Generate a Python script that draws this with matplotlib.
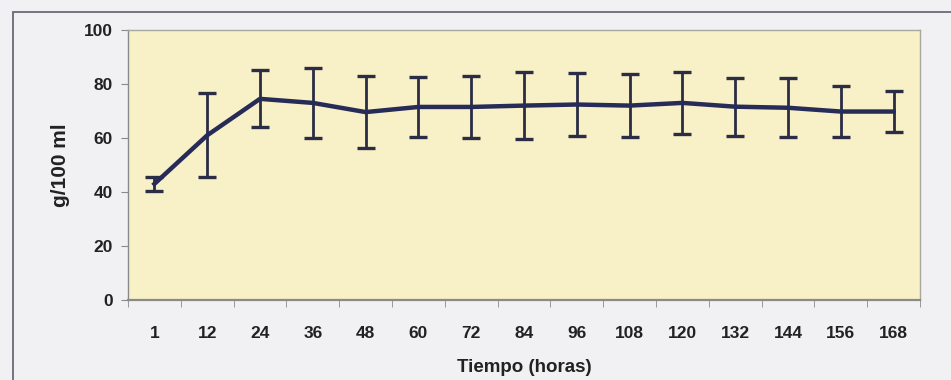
import matplotlib.pyplot as plt
import numpy as np
from matplotlib.patches import Rectangle

horas = ["1", "12", "24", "36", "48", "60", "72", "84", "96", "108", "120", "132", "144", "156", "168"]
media = [43, 61, 74.5, 73, 69.6, 71.5, 71.5, 72, 72.4, 72, 73, 71.6, 71.2, 69.8, 69.8]
error = [2.5, 15.6, 10.5, 13, 13.4, 11, 11.5, 12.5, 11.7, 11.7, 11.6, 10.7, 11, 9.3, 7.7]

plt.rcParams['font.family'] = ['Liberation Sans', 'DejaVu Sans']

fig = plt.figure(figsize=(9.51, 3.80), dpi=100)
fig.patch.set_facecolor('#f1f1f3')
# marco exterior del grafico
fig.patches.append(Rectangle((13/951, -0.05), 1.0, 1 - 12/380 + 0.05, transform=fig.transFigure,
                             fill=False, edgecolor='#6a6a78', linewidth=1.3))

ax = fig.add_axes([128/951, 80/380, 792/951, 270/380])
ax.set_facecolor('#f8f0c6')

x = np.arange(len(horas))
ax.errorbar(x, media, yerr=error, color='#262b58', linewidth=3.2,
            elinewidth=2.0, capsize=6.5, capthick=2.4, ecolor='#2a2d45')

ax.set_xlim(-0.5, len(horas) - 0.5)
ax.set_ylim(0, 100)
ax.set_yticks(np.arange(0, 101, 20))
ax.set_xticks(x)
ax.set_xticklabels(horas)
ax.set_xticks(np.arange(-0.5, len(horas), 1), minor=True)
ax.tick_params(axis='x', which='major', length=0, pad=19, labelsize=12.5, colors='#222222')
ax.tick_params(axis='x', which='minor', length=5, color='#8a8a8a')
ax.tick_params(axis='y', length=5, color='#8a8a8a', labelsize=12.5, labelcolor='#222222', pad=6)
for lbl in ax.get_xticklabels() + ax.get_yticklabels():
    lbl.set_fontweight('bold')

for s in ax.spines.values():
    s.set_color('#a8a8a0')
    s.set_linewidth(1.0)
ax.spines['left'].set_color('#8a8a8a')
ax.spines['bottom'].set_color('#8a8a8a')
ax.spines['bottom'].set_linewidth(1.6)

ax.set_ylabel('g/100 ml', fontsize=15, fontweight='bold', color='#222222', labelpad=10)
ax.set_xlabel('Tiempo (horas)', fontsize=13.5, fontweight='bold', color='#222222', labelpad=13)

fig.savefig('out.png', dpi=100, facecolor=fig.get_facecolor())
